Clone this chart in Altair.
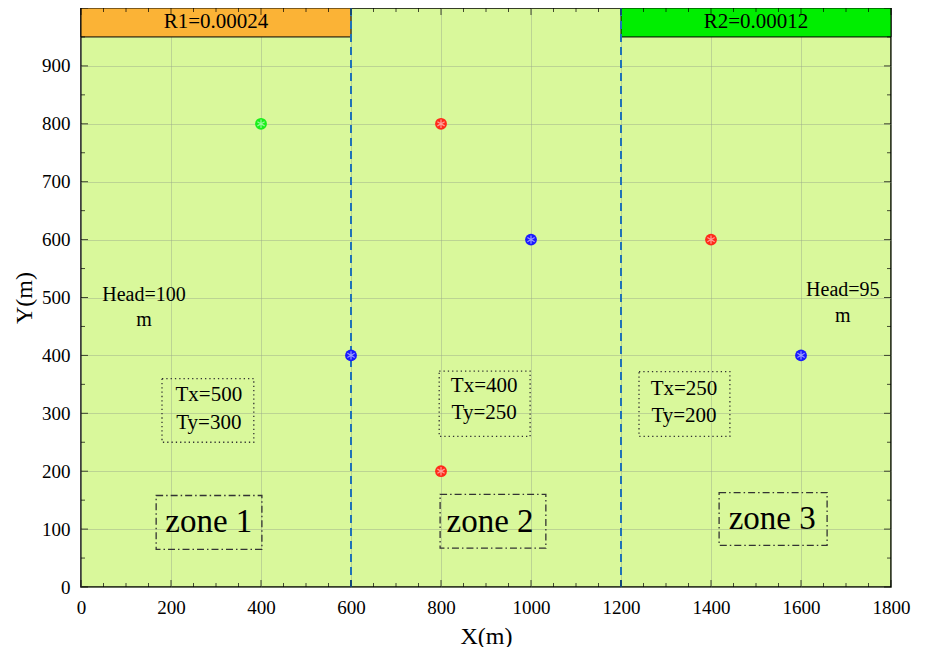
import altair as alt
import pandas as pd

# ---- data ----
well_x = [400, 800, 800, 1400, 1000, 600, 1600]
well_y = [800, 800, 200, 600, 600, 400, 400]
well_c = ["#19f019", "#ff2a1a", "#ff2a1a", "#ff2a1a", "#1a1aff", "#1a1aff", "#1a1aff"]

band_x0 = [0, 1200]
band_x1 = [600, 1800]
band_y0 = [950, 950]
band_y1 = [1000, 1000]
band_fill = ["#fbb336", "#00ee00"]
band_text = ["R1=0.00024", "R2=0.00012"]
band_tx = [300, 1500]
band_ty = [975, 975]

boundary_x = [600, 1200]

t_box_x0 = [180, 796, 1240]
t_box_x1 = [384, 998, 1442]
t_box_y0 = [250, 260, 260]
t_box_y1 = [360, 373, 372]
t_text = ["Tx=500", "Ty=300", "Tx=400", "Ty=250", "Tx=250", "Ty=200"]
t_tx = [284, 284, 896, 896, 1340, 1340]
t_ty = [331, 284, 348, 300, 342, 295]

z_box_x0 = [167, 798, 1418]
z_box_x1 = [402, 1033, 1658]
z_box_y0 = [65, 67, 72]
z_box_y1 = [158, 160, 163]
z_text = ["zone 1", "zone 2", "zone 3"]
z_tx = [284, 909, 1536]
z_ty = [112, 112, 117]

head_text = ["Head=100", "m", "Head=95", "m"]
head_tx = [140, 140, 1693, 1693]
head_ty = [504, 461, 513, 468]

x_major = list(range(0, 1801, 200))
x_minor = [v for v in range(0, 1801, 50) if v % 200 != 0]
y_major = list(range(0, 1001, 100))
y_minor = [v for v in range(0, 1001, 50) if v % 100 != 0]

W, H = 810, 579
FONT = "Liberation Serif"

xs = alt.Scale(domain=[0, 1800], nice=False, zero=False)
ys = alt.Scale(domain=[0, 1000], nice=False, zero=False)

wells = pd.DataFrame({"x": well_x, "y": well_y, "c": well_c})
bands = pd.DataFrame({"x0": band_x0, "x1": band_x1, "y0": band_y0, "y1": band_y1,
                      "f": band_fill, "t": band_text, "tx": band_tx, "ty": band_ty})
bounds = pd.DataFrame({"x": boundary_x})
tbox = pd.DataFrame({"x0": t_box_x0, "x1": t_box_x1, "y0": t_box_y0, "y1": t_box_y1})
ttext = pd.DataFrame({"t": t_text, "x": t_tx, "y": t_ty})
zbox = pd.DataFrame({"x0": z_box_x0, "x1": z_box_x1, "y0": z_box_y0, "y1": z_box_y1})
ztext = pd.DataFrame({"t": z_text, "x": z_tx, "y": z_ty})
htext = pd.DataFrame({"t": head_text, "x": head_tx, "y": head_ty})

xaxis = alt.Axis(values=x_major, format="d", grid=True, ticks=False, domain=False, labelFont=FONT,
                 labelFontSize=19, labelColor="black", labelPadding=11, labelFlush=False,
                 labelOverlap=False, title="X(m)",
                 titleFont=FONT, titleFontSize=24, titleFontWeight="normal",
                 titleColor="black", titlePadding=7, gridColor="#9aa88a", gridOpacity=0.45)
yaxis = alt.Axis(values=list(range(0, 901, 100)), format="d", grid=True, ticks=False, domain=False,
                 labelFont=FONT, labelFontSize=19, labelColor="black", labelPadding=11,
                 labelFlush=False, labelOverlap=False,
                 title="Y(m)", titleFont=FONT, titleFontSize=24, titleFontWeight="normal",
                 titleColor="black", titlePadding=5, gridColor="#9aa88a", gridOpacity=0.45)


def X(f):
    return alt.X(f, scale=xs, axis=xaxis, title="X(m)")


def Y(f):
    return alt.Y(f, scale=ys, axis=yaxis, title="Y(m)")


base = alt.Chart(bands).mark_rect(stroke="black", strokeWidth=1).encode(
    x=X("x0:Q"), x2="x1:Q", y=Y("y0:Q"), y2="y1:Q",
    fill=alt.Fill("f:N", scale=None),
)

band_lbl = alt.Chart(bands).mark_text(font=FONT, fontSize=21, color="black").encode(
    x=X("tx:Q"), y=Y("ty:Q"), text="t:N")

bline = alt.Chart(bounds).mark_rule(color="#1f72b8", strokeWidth=2, strokeDash=[8, 5]).encode(
    x=X("x:Q"), y=alt.value(0), y2=alt.value(H))

tb = alt.Chart(tbox).mark_rect(fill=None, stroke="#333333", strokeWidth=1.3, strokeDash=[1.3, 3]).encode(
    x=X("x0:Q"), x2="x1:Q", y=Y("y0:Q"), y2="y1:Q")
tt = alt.Chart(ttext).mark_text(font=FONT, fontSize=21, color="black").encode(
    x=X("x:Q"), y=Y("y:Q"), text="t:N")

zb = alt.Chart(zbox).mark_rect(fill=None, stroke="#333333", strokeWidth=1.3, strokeDash=[7, 3, 1.5, 3]).encode(
    x=X("x0:Q"), x2="x1:Q", y=Y("y0:Q"), y2="y1:Q")
zt = alt.Chart(ztext).mark_text(font=FONT, fontSize=33, color="black").encode(
    x=X("x:Q"), y=Y("y:Q"), text="t:N")

ht = alt.Chart(htext).mark_text(font=FONT, fontSize=20, color="black").encode(
    x=X("x:Q"), y=Y("y:Q"), text="t:N")

pts = alt.Chart(wells).mark_point(shape="circle", filled=True, size=140, opacity=1).encode(
    x=X("x:Q"), y=Y("y:Q"), color=alt.Color("c:N", scale=None))
star = alt.Chart(wells).mark_point(
    shape="M0,-1L0,1M-0.87,-0.5L0.87,0.5M-0.87,0.5L0.87,-0.5",
    filled=False, size=70, strokeWidth=1.2, color="white", opacity=0.55).encode(
    x=X("x:Q"), y=Y("y:Q"))

xmaj = pd.DataFrame({"v": x_major})
xmin = pd.DataFrame({"v": x_minor})
ymaj = pd.DataFrame({"v": y_major})
ymin = pd.DataFrame({"v": y_minor})


def xticks(df, size, top):
    return alt.Chart(df).mark_tick(orient="vertical", size=size, thickness=1, color="black").encode(
        x=X("v:Q"), y=alt.value(size / 2 if top else H - size / 2))


def yticks(df, size, right):
    return alt.Chart(df).mark_tick(orient="horizontal", size=size, thickness=1, color="black").encode(
        y=Y("v:Q"), x=alt.value(W - size / 2 if right else size / 2))


ticks = [xticks(xmaj, 7, False), xticks(xmin, 4, False), xticks(xmaj, 7, True), xticks(xmin, 4, True),
         yticks(ymaj, 7, False), yticks(ymin, 4, False), yticks(ymaj, 7, True), yticks(ymin, 4, True)]

chart = alt.layer(base, band_lbl, bline, tb, tt, zb, zt, ht, pts, star, *ticks).properties(
    width=W, height=H,
    autosize=alt.AutoSizeParams(type="none"),
    padding={"left": 73, "top": 0, "right": 30, "bottom": 60},
    background="white",
).configure_view(fill="#d9f89b", stroke="black", strokeWidth=1.5)

chart.save("out.html", embed_options={"renderer": "svg", "actions": False})
